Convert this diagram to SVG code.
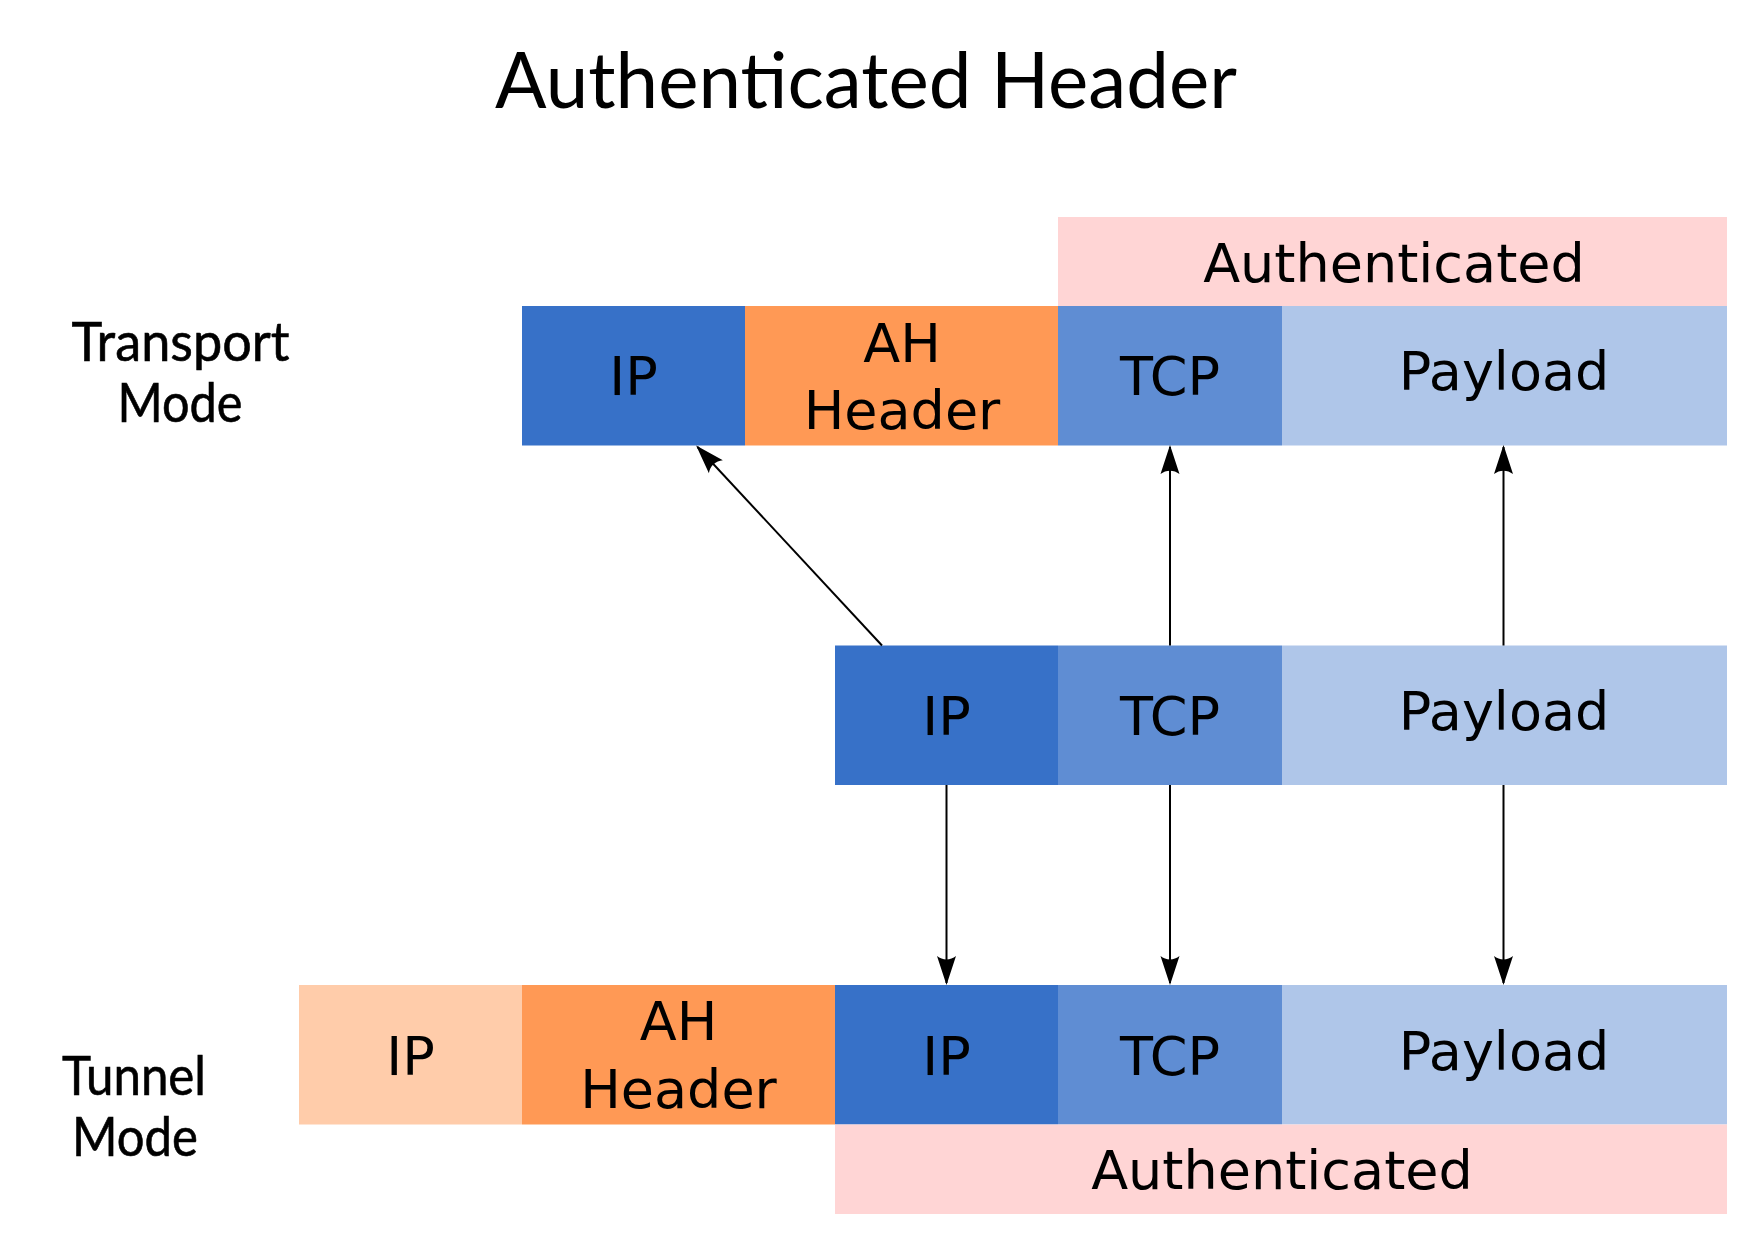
<svg xmlns="http://www.w3.org/2000/svg" width="1738" height="1244" viewBox="0 0 1738 1244">
  <style>
    .box { font-family: "DejaVu Sans", sans-serif; font-size: 54px; fill: #000; text-anchor: middle; }
    .title { font-family: Lato, "Open Sans", sans-serif; font-size: 78px; fill: #000; text-anchor: middle; }
    .mode { font-family: Lato, "Open Sans", sans-serif; font-size: 54px; fill: #000; text-anchor: middle; stroke: #000; stroke-width: 0.6px; }
    .ip { fill: #3771c8; }
    .tcp { fill: #5f8dd3; }
    .pay { fill: #afc6e9; }
    .ah { fill: #ff9955; }
    .oip { fill: #ffccaa; }
    .auth { fill: #ffd5d5; }
    .conn { stroke: #000; stroke-width: 2; fill: none; marker-end: url(#arrow); }
  </style>
  <defs>
    <marker id="arrow" markerUnits="userSpaceOnUse" markerWidth="40" markerHeight="30" viewBox="-32 -15 40 30" refX="0" refY="0" orient="auto" overflow="visible">
      <path d="M2,0 L-27,-9.5 C-22.5,-4 -22.5,4 -27,9.5 Z" fill="#000"/>
    </marker>
  </defs>
  <rect width="1738" height="1244" fill="#fff"/>

  <g id="title">
    <text class="title" x="866" y="108" textLength="742" lengthAdjust="spacingAndGlyphs">Authenticated Header</text>
  </g>

  <g id="label-transport">
    <text class="mode" x="180.5" y="361" textLength="218" lengthAdjust="spacingAndGlyphs">Transport</text>
    <text class="mode" x="180" y="422" textLength="125" lengthAdjust="spacingAndGlyphs">Mode</text>
  </g>
  <g id="label-tunnel">
    <text class="mode" x="134" y="1095" textLength="144" lengthAdjust="spacingAndGlyphs">Tunnel</text>
    <text class="mode" x="135" y="1156" textLength="126" lengthAdjust="spacingAndGlyphs">Mode</text>
  </g>

  <!-- Transport mode row -->
  <g id="t-auth">
    <rect class="auth" x="1058" y="217" width="669" height="89"/>
    <text class="box" x="1394" y="282">Authenticated</text>
  </g>
  <g id="t-ip">
    <rect class="ip" x="522" y="306" width="223" height="139.5"/>
    <text class="box" x="633.5" y="395">IP</text>
  </g>
  <g id="t-ah">
    <rect class="ah" x="745" y="306" width="313" height="139.5"/>
    <text class="box" x="902" y="362">AH</text>
    <text class="box" x="902" y="429">Header</text>
  </g>
  <g id="t-tcp">
    <rect class="tcp" x="1058" y="306" width="224" height="139.5"/>
    <text class="box" x="1170" y="395">TCP</text>
  </g>
  <g id="t-pay">
    <rect class="pay" x="1282" y="306" width="445" height="139.5"/>
    <text class="box" x="1504" y="390">Payload</text>
  </g>

  <!-- Original packet row -->
  <g id="m-ip">
    <rect class="ip" x="835" y="645.5" width="223" height="139.5"/>
    <text class="box" x="946.5" y="735">IP</text>
  </g>
  <g id="m-tcp">
    <rect class="tcp" x="1058" y="645.5" width="224" height="139.5"/>
    <text class="box" x="1170" y="735">TCP</text>
  </g>
  <g id="m-pay">
    <rect class="pay" x="1282" y="645.5" width="445" height="139.5"/>
    <text class="box" x="1504" y="730">Payload</text>
  </g>

  <!-- Tunnel mode row -->
  <g id="u-oip">
    <rect class="oip" x="299" y="985" width="223" height="139.5"/>
    <text class="box" x="410.5" y="1075">IP</text>
  </g>
  <g id="u-ah">
    <rect class="ah" x="522" y="985" width="313" height="139.5"/>
    <text class="box" x="678.5" y="1040">AH</text>
    <text class="box" x="678.5" y="1108">Header</text>
  </g>
  <g id="u-ip">
    <rect class="ip" x="835" y="985" width="223" height="139.5"/>
    <text class="box" x="946.5" y="1075">IP</text>
  </g>
  <g id="u-tcp">
    <rect class="tcp" x="1058" y="985" width="224" height="139.5"/>
    <text class="box" x="1170" y="1075">TCP</text>
  </g>
  <g id="u-pay">
    <rect class="pay" x="1282" y="985" width="445" height="139.5"/>
    <text class="box" x="1504" y="1070">Payload</text>
  </g>
  <g id="u-auth">
    <rect class="auth" x="835" y="1124.5" width="892" height="89.5"/>
    <text class="box" x="1282" y="1189">Authenticated</text>
  </g>

  <g id="connectors">
    <line class="conn" x1="882" y1="645.5" x2="697.5" y2="447"/>
    <line class="conn" x1="1170" y1="645.5" x2="1170" y2="447"/>
    <line class="conn" x1="1503.5" y1="645.5" x2="1503.5" y2="447"/>
    <line class="conn" x1="946.5" y1="785" x2="946.5" y2="983"/>
    <line class="conn" x1="1170" y1="785" x2="1170" y2="983"/>
    <line class="conn" x1="1503.5" y1="785" x2="1503.5" y2="983"/>
  </g>
</svg>
